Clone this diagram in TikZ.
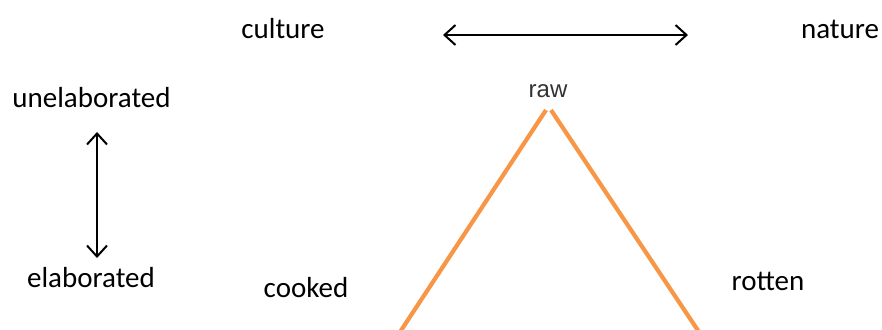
\documentclass[tikz,border=0pt]{standalone}
\usepackage{fontspec}
\setmainfont{Carlito}
\newfontfamily\rawfont{Liberation Sans}
\usetikzlibrary{arrows.meta}
\definecolor{triorange}{HTML}{F79646}
\definecolor{rawgray}{HTML}{333333}
\begin{document}
\begin{tikzpicture}[x=1pt,y=-1pt,
  lbl/.style={anchor=base,inner sep=0pt,font=\fontsize{29}{34}\selectfont},
  axis/.style={line width=2pt,{Straight Barb[length=11pt,width=20pt,line width=2pt]}-{Straight Barb[length=11pt,width=20pt,line width=2pt]}},
  side/.style={line width=4.2pt,triorange}]
\useasboundingbox (0,0) rectangle (882,329);
% labels
\node[lbl] (culture) at (283,38) {culture};
\node[lbl] (nature) at (840,38) {nature};
\node[lbl] (unelab) at (91.5,107) {unelaborated};
\node[lbl] (elab) at (91,287) {elaborated};
\node[lbl] (cooked) at (306,297) {cooked};
\node[lbl] (rotten) at (768,290) {rotten};
\node[anchor=base,inner sep=0pt,font=\rawfont\fontsize{24}{28}\selectfont,text=rawgray] (raw) at (548,97) {raw};
% axis arrows
\coordinate (hL) at (443,35);
\coordinate (hR) at (688,35);
\coordinate (vT) at (97,132);
\coordinate (vB) at (97,258);
\draw[axis] (hL) -- (hR);
\draw[axis] (vT) -- (vB);
% triangle sides
\coordinate (apexL) at (546,110);
\coordinate (apexR) at (551,110);
\coordinate (baseL) at (400,332);
\coordinate (baseR) at (699,332);
\draw[side] (apexL) -- (baseL);
\draw[side] (apexR) -- (baseR);
\end{tikzpicture}
\end{document}
